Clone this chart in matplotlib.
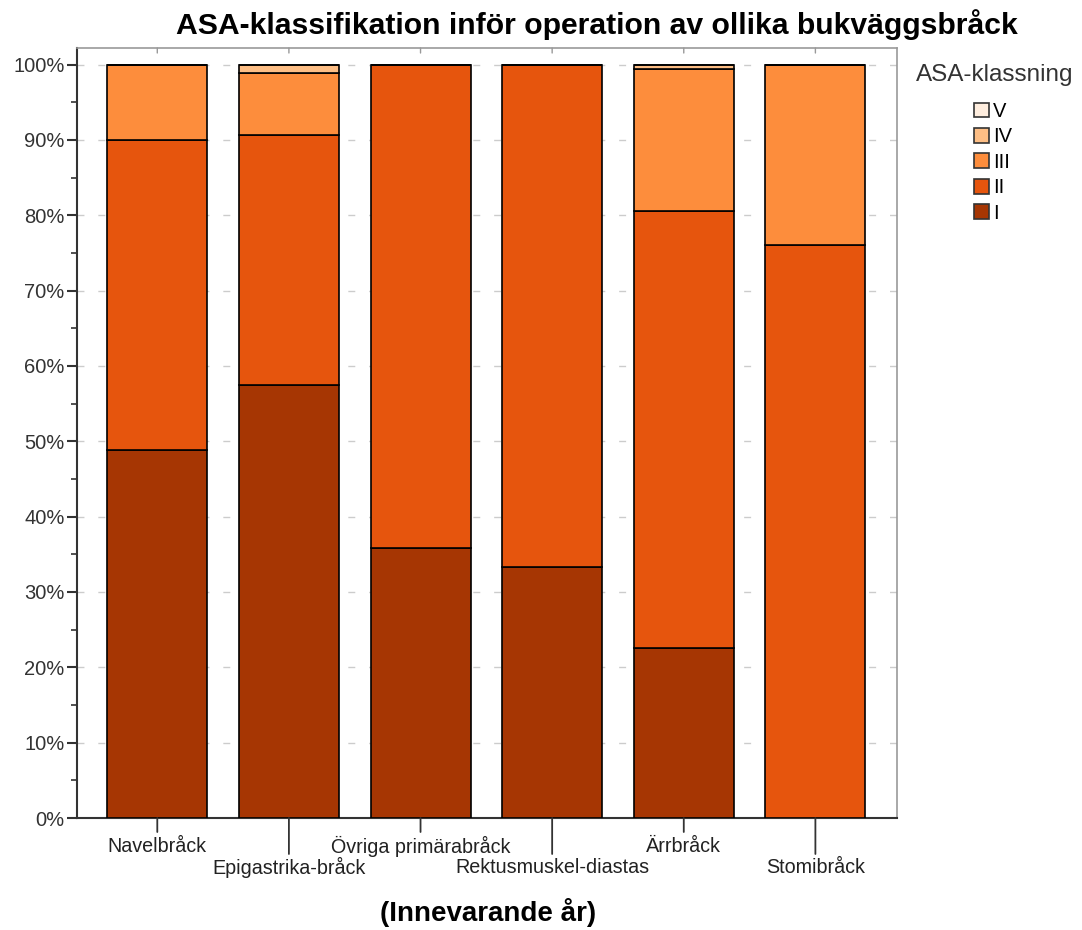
import matplotlib
matplotlib.use("Agg")
import matplotlib.pyplot as plt
from matplotlib.patches import Patch
from matplotlib.ticker import MultipleLocator, FuncFormatter
import numpy as np

plt.rcParams['font.family'] = ['Liberation Sans', 'DejaVu Sans']

# data (procent per bråcktyp)
categories = ["Navelbråck", "Epigastrika-bråck", "Övriga primärabråck",
              "Rektusmuskel-diastas", "Ärrbråck", "Stomibråck"]
asa_levels = ["I", "II", "III", "IV", "V"]
asa_I = [48.9, 57.5, 35.8, 33.3, 22.5, 0.0]
asa_II = [41.1, 33.2, 64.2, 66.7, 58.0, 76.1]
asa_III = [10.0, 8.2, 0.0, 0.0, 18.9, 23.9]
asa_IV = [0.0, 1.1, 0.0, 0.0, 0.5, 0.0]
asa_V = [0.0, 0.0, 0.0, 0.0, 0.1, 0.0]
colors = ["#a63603", "#e6550d", "#fd8d3c", "#fdbe85", "#feedde"]

fig = plt.figure(figsize=(10.82, 9.3), dpi=100)
# axes box in pixels: x 77..897, y 48..818
ax = fig.add_axes([77 / 1082, 1 - 818 / 930, (897 - 77) / 1082, (818 - 48) / 930])

x = np.arange(len(categories))
bottom = np.zeros(len(categories))
for vals, c in zip([asa_I, asa_II, asa_III, asa_IV, asa_V], colors):
    vals = np.array(vals)
    ax.bar(x, vals, 0.76, bottom=bottom, color=c, edgecolor="black",
           linewidth=1.2, zorder=3)
    bottom += vals

ax.set_ylim(0, 102.2)
ax.set_xlim(-0.61, 5.62)
ax.yaxis.set_major_locator(MultipleLocator(10))
ax.yaxis.set_minor_locator(MultipleLocator(5))
ax.yaxis.set_major_formatter(FuncFormatter(lambda v, p: f"{int(v)}%"))
ax.tick_params(axis="y", which="major", length=7, width=1.5, labelsize=14.5,
               colors="#333333", pad=2)
ax.tick_params(axis="y", which="minor", length=4, width=1.2, color="#333333")
ax.yaxis.grid(True, which="major", linestyle=(0, (5, 10)), color="#cccccc", linewidth=1, zorder=0)

ax.set_xticks(x)
ax.set_xticklabels([])
ax.tick_params(axis="x", length=0)

# staggered category labels with long/short ticks
trans = ax.get_xaxis_transform()
for i, name in enumerate(categories):
    if i % 2 == 0:
        tick_len, ly = 14, 846
    else:
        tick_len, ly = 36, 867
    ax.annotate("", xy=(i, 0), xycoords=trans, xytext=(0, -tick_len),
                textcoords="offset pixels",
                arrowprops=dict(arrowstyle="-", color="#333333", lw=1.3, shrinkA=0, shrinkB=0))
    ax.text(i, (818 - ly) / 770, name, transform=trans, fontsize=14.2,
            ha="center", va="center", color="#222222")
    # short top tick
    ax.annotate("", xy=(i, 1), xycoords=trans, xytext=(0, -5),
                textcoords="offset pixels",
                arrowprops=dict(arrowstyle="-", color="#999999", lw=1, shrinkA=0, shrinkB=0))

for s in ["left", "bottom"]:
    ax.spines[s].set_color("#333333")
    ax.spines[s].set_linewidth(1.5)
for s in ["top", "right"]:
    ax.spines[s].set_color("#999999")
    ax.spines[s].set_linewidth(1.2)

fig.text(597 / 1082, 1 - 25 / 930, "ASA-klassifikation inför operation av ollika bukväggsbråck",
         fontsize=21.7, fontweight="bold", ha="center", va="center")
fig.text(488 / 1082, 1 - 912 / 930, "(Innevarande år)", fontsize=20, fontweight="bold",
         ha="center", va="center")

handles = [Patch(facecolor=c, edgecolor="#333333", linewidth=1.2, label=l)
           for l, c in zip(asa_levels, colors)][::-1]
fig.text(995 / 1082, 1 - 75 / 930, "ASA-klassning", fontsize=17.5, ha="center", va="center",
         color="#333333")
fig.legend(handles=handles, loc="upper left", bbox_to_anchor=(974 / 1082, 1 - 102 / 930),
           frameon=False, fontsize=14.5, handlelength=0.75, handleheight=0.75,
           handletextpad=0.2, labelspacing=0.32, borderpad=0, borderaxespad=0)

fig.savefig("out.png", dpi=100)
